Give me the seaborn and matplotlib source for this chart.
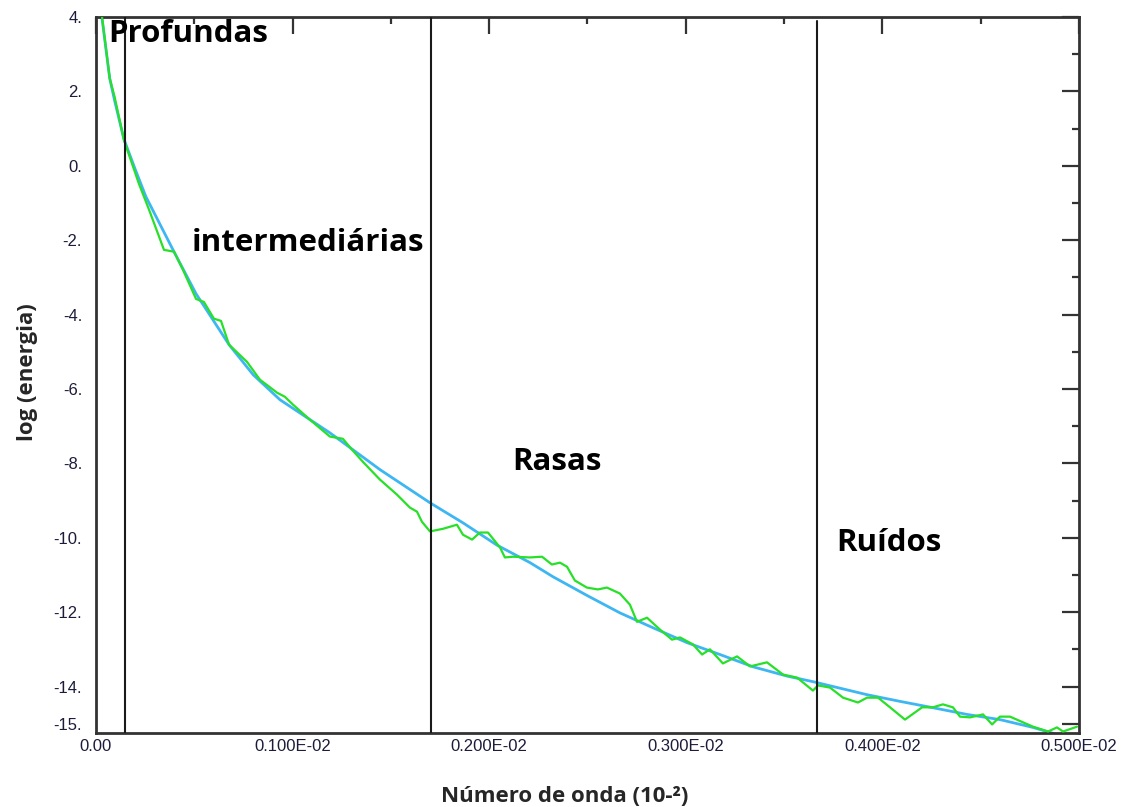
import numpy as np
import pandas as pd
import seaborn as sns
import matplotlib.pyplot as plt
from matplotlib.ticker import MultipleLocator, FixedLocator

# ajuste suave (azul)
fit_x = [0.0000300, 0.0000700, 0.000095, 0.000142, 0.000200, 0.000254, 0.000392,
         0.000509, 0.000677, 0.000800, 0.000936, 0.001190, 0.001445, 0.001699,
         0.001867, 0.002040, 0.002208, 0.002325, 0.002497, 0.002665, 0.002833,
         0.003006, 0.003174, 0.003342, 0.003515, 0.003647, 0.003749, 0.003922,
         0.004090, 0.004257, 0.004430, 0.004598, 0.004766, 0.004888, 0.005000]
fit_y = [4.00, 2.35, 1.75, 0.72, -0.10, -0.83, -2.26, -3.44, -4.81, -5.62, -6.29,
         -7.18, -8.17, -9.06, -9.60, -10.20, -10.67, -11.05, -11.55, -12.02,
         -12.42, -12.82, -13.14, -13.47, -13.72, -13.87, -14.00, -14.22, -14.40,
         -14.57, -14.75, -14.89, -15.10, -15.29, -15.45]

# espectro observado (verde)
spec_x = [0.000020, 0.000031, 0.000070, 0.000095, 0.000142, 0.000158, 0.000219,
          0.000270, 0.000346, 0.000397, 0.000443, 0.000509, 0.000549, 0.000600,
          0.000636, 0.000677, 0.000768, 0.000834, 0.000921, 0.000961, 0.001002,
          0.001089, 0.001190, 0.001256, 0.001302, 0.001358, 0.001445, 0.001531,
          0.001597, 0.001633, 0.001658, 0.001699, 0.001765, 0.001836, 0.001867,
          0.001913, 0.001953, 0.001994, 0.002055, 0.002080, 0.002121, 0.002208,
          0.002269, 0.002319, 0.002360, 0.002396, 0.002436, 0.002497, 0.002553,
          0.002599, 0.002665, 0.002716, 0.002752, 0.002803, 0.002869, 0.002930,
          0.002971, 0.003037, 0.003083, 0.003123, 0.003189, 0.003261, 0.003327,
          0.003413, 0.003495, 0.003566, 0.003647, 0.003673, 0.003734, 0.003800,
          0.003876, 0.003922, 0.003978, 0.004039, 0.004115, 0.004202, 0.004257,
          0.004308, 0.004359, 0.004395, 0.004446, 0.004512, 0.004558, 0.004598,
          0.004649, 0.004766, 0.004843, 0.004888, 0.004919, 0.004990]
spec_y = [4.32, 4.00, 2.35, 1.85, 0.70, 0.45, -0.49, -1.18, -2.26, -2.31, -2.80,
          -3.58, -3.66, -4.11, -4.17, -4.81, -5.27, -5.75, -6.10, -6.21, -6.42,
          -6.83, -7.28, -7.34, -7.63, -7.96, -8.44, -8.84, -9.19, -9.30, -9.57,
          -9.83, -9.76, -9.65, -9.92, -10.05, -9.86, -9.86, -10.26, -10.53, -10.51,
          -10.53, -10.51, -10.72, -10.67, -10.78, -11.15, -11.34, -11.39, -11.34,
          -11.50, -11.80, -12.26, -12.15, -12.47, -12.74, -12.68, -12.87, -13.14,
          -13.00, -13.38, -13.19, -13.46, -13.35, -13.68, -13.76, -14.11, -13.97,
          -14.03, -14.30, -14.43, -14.30, -14.30, -14.56, -14.89, -14.56, -14.56,
          -14.48, -14.56, -14.81, -14.83, -14.75, -15.02, -14.81, -14.81, -15.08,
          -15.21, -15.10, -15.21, -15.08]

# limites entre as fontes
limits = [0.0001475, 0.001704, 0.003665]
zone_names = ["Profundas", "intermediárias", "Rasas", "Ruídos"]
zone_pos = [(0.000061, 3.55), (0.000487, -2.07), (0.002117, -7.96), (0.003767, -10.14)]

y_ticks = [4, 2, 0, -2, -4, -6, -8, -10, -12, -14, -15]
y_labels = ["4.", "2.", "0.", "-2.", "-4.", "-6.", "-8.", "-10.", "-12.", "-14.", "-15."]
x_ticks = [0.0, 0.001, 0.002, 0.003, 0.004, 0.005]
x_labels = ["0.00", "0.100E-02", "0.200E-02", "0.300E-02", "0.400E-02", "0.500E-02"]

sns.set_theme(style="white")
plt.rcParams['font.family'] = ['Liberation Sans', 'DejaVu Sans']
bold_font = ["Open Sans", "DejaVu Sans"]

fig = plt.figure(figsize=(11.21, 8.07), dpi=100)
ax = fig.add_axes([0.0856, 0.0917, 0.8769, 0.8872])

df_fit = pd.DataFrame({"x": fit_x, "y": fit_y})
df_spec = pd.DataFrame({"x": spec_x, "y": spec_y})
sns.lineplot(data=df_fit, x="x", y="y", ax=ax, color="#3db6f2", linewidth=2.0,
             sort=False, estimator=None, zorder=2)
sns.lineplot(data=df_spec, x="x", y="y", ax=ax, color="#27e027", linewidth=1.6,
             sort=False, estimator=None, zorder=3)

for i, lx in enumerate(limits):
    top = 0.995 if i == 2 else 1.0
    ax.axvline(lx, ymin=0, ymax=top, color="#1a1a1a", linewidth=1.5, zorder=4)

for name, (tx, ty) in zip(zone_names, zone_pos):
    ax.text(tx, ty, name, fontsize=22.5, fontweight="bold", family=bold_font,
            color="black", ha="left", va="center", zorder=5)

ax.set_xlim(0, 0.005)
ax.set_ylim(-15.25, 4.0)
ax.yaxis.set_major_locator(FixedLocator(y_ticks))
ax.set_yticklabels(y_labels)
ax.yaxis.set_minor_locator(FixedLocator([3, 1, -1, -3, -5, -7, -9, -11, -13]))
ax.xaxis.set_major_locator(FixedLocator(x_ticks))
ax.set_xticklabels(x_labels)
ax.xaxis.set_minor_locator(MultipleLocator(0.0005))

ax.tick_params(which="both", direction="in", top=True, right=True, color="#333333",
               labelsize=12, labelcolor="#1c1c3a")
ax.tick_params(which="major", length=12, width=1.6)
ax.tick_params(which="minor", length=5, width=1.6)
ax.tick_params(axis="y", pad=10)
ax.tick_params(axis="x", pad=4)
for s in ax.spines.values():
    s.set_color("#333333")
    s.set_linewidth(2)

ax.set_xlabel("Número de onda (10-²)", fontsize=16, fontweight="bold", family=bold_font)
ax.xaxis.set_label_coords(0.477, -0.074)
ax.set_ylabel("log (energia)", fontsize=16, fontweight="bold", family=bold_font)
ax.yaxis.set_label_coords(-0.059, 0.504)

fig.savefig("out.png", dpi=100, facecolor="white")
